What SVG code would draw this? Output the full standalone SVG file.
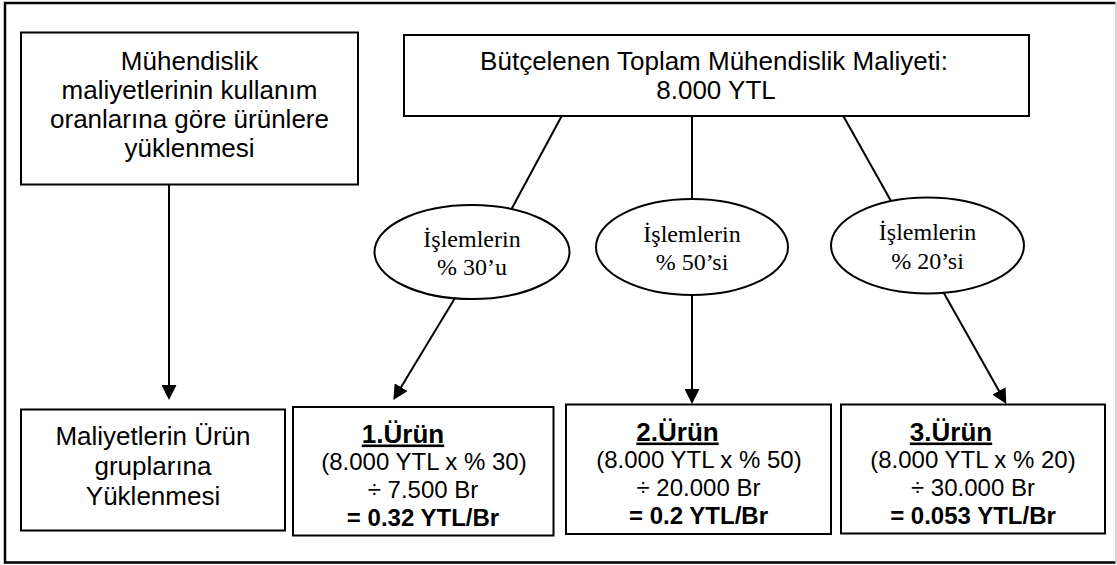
<svg xmlns="http://www.w3.org/2000/svg" width="1117" height="565" viewBox="0 0 1117 565">
  <defs>
    <style>
      .box { fill: #ffffff; stroke: #000000; stroke-width: 2; }
      .oval { fill: #ffffff; stroke: #000000; stroke-width: 2; }
      .link { fill: none; stroke: #000000; stroke-width: 2; }
      .arrow { fill: none; stroke: #000000; stroke-width: 2; marker-end: url(#head); }
      .sans { font-family: "Liberation Sans", Arial, sans-serif; fill: #000000; text-anchor: middle; }
      .big { font-size: 26px; }
      .calc { font-size: 24px; }
      .title { font-size: 26px; font-weight: bold; text-decoration: underline; }
      .bold { font-weight: bold; }
      .serif { font-family: "Liberation Serif", "Times New Roman", serif; font-size: 24px; fill: #000000; text-anchor: middle; }
    </style>
    <marker id="head" markerUnits="userSpaceOnUse" viewBox="0 0 15 15" markerWidth="15" markerHeight="15" refX="11" refY="7.5" orient="auto">
      <path d="M0,0 L15,7.5 L0,15 z" fill="#000000"/>
    </marker>
  </defs>

  <rect x="0" y="0" width="1117" height="565" fill="#ffffff"/>

  <!-- outer frame -->
  <g id="frame">
    <path d="M1116,3 L5,3 L5,562.5 L1116,562.5" fill="none" stroke="#000000" stroke-width="2.5"/>
    <line x1="1116" y1="2" x2="1116" y2="563.5" stroke="#c8c8c8" stroke-width="1.5"/>
  </g>

  <!-- connectors -->
  <g id="connectors">
    <line class="arrow" x1="169" y1="185" x2="169" y2="396"/>
    <line class="link" x1="561.7" y1="116" x2="511" y2="210"/>
    <line class="link" x1="692" y1="116" x2="692" y2="200"/>
    <line class="link" x1="843.3" y1="116" x2="891" y2="201"/>
    <line class="arrow" x1="455" y1="298" x2="395.4" y2="396.6"/>
    <line class="arrow" x1="692" y1="294" x2="692" y2="400"/>
    <line class="arrow" x1="943.3" y1="292" x2="1004.4" y2="400.5"/>
  </g>

  <!-- method description -->
  <g id="node-method">
    <rect class="box" x="21" y="32.5" width="337" height="152"/>
    <text class="sans big" x="189.5" y="70">Mühendislik</text>
    <text class="sans big" x="189.5" y="99">maliyetlerinin kullanım</text>
    <text class="sans big" x="189.5" y="128">oranlarına göre ürünlere</text>
    <text class="sans big" x="189.5" y="157">yüklenmesi</text>
  </g>

  <!-- budget total -->
  <g id="node-budget">
    <rect class="box" x="404" y="35" width="625" height="81"/>
    <text class="sans big" x="714" y="70">Bütçelenen Toplam Mühendislik Maliyeti:</text>
    <text class="sans big" x="716" y="99">8.000 YTL</text>
  </g>

  <!-- usage shares -->
  <g id="node-share1">
    <ellipse class="oval" cx="472" cy="252" rx="97.5" ry="47"/>
    <text class="serif" x="472" y="247">İşlemlerin</text>
    <text class="serif" x="472" y="275">% 30’u</text>
  </g>
  <g id="node-share2">
    <ellipse class="oval" cx="692" cy="247" rx="96" ry="48"/>
    <text class="serif" x="692" y="242">İşlemlerin</text>
    <text class="serif" x="692" y="270">% 50’si</text>
  </g>
  <g id="node-share3">
    <ellipse class="oval" cx="927.5" cy="245.5" rx="96.5" ry="48"/>
    <text class="serif" x="927.5" y="240">İşlemlerin</text>
    <text class="serif" x="927.5" y="268.5">% 20’si</text>
  </g>

  <!-- allocation label -->
  <g id="node-allocation">
    <rect class="box" x="21" y="409.5" width="264" height="121"/>
    <text class="sans big" x="153" y="445">Maliyetlerin Ürün</text>
    <text class="sans big" x="153" y="475">gruplarına</text>
    <text class="sans big" x="153" y="505">Yüklenmesi</text>
  </g>

  <!-- product rates -->
  <g id="node-product1">
    <rect class="box" x="293" y="407" width="260.5" height="128.5"/>
    <text class="sans title" x="403" y="442.5">1.Ürün</text>
    <text class="sans calc" x="424" y="470">(8.000 YTL x % 30)</text>
    <text class="sans calc" x="423" y="498">÷ 7.500 Br</text>
    <text class="sans calc bold" x="423" y="525.5">= 0.32 YTL/Br</text>
  </g>
  <g id="node-product2">
    <rect class="box" x="566" y="404.5" width="265" height="129.5"/>
    <text class="sans title" x="677.5" y="440.5">2.Ürün</text>
    <text class="sans calc" x="699" y="468">(8.000 YTL x % 50)</text>
    <text class="sans calc" x="698.5" y="496">÷ 20.000 Br</text>
    <text class="sans calc bold" x="698.5" y="523.5">= 0.2 YTL/Br</text>
  </g>
  <g id="node-product3">
    <rect class="box" x="841" y="404.5" width="264" height="129"/>
    <text class="sans title" x="951" y="440.5">3.Ürün</text>
    <text class="sans calc" x="973" y="468">(8.000 YTL x % 20)</text>
    <text class="sans calc" x="973" y="496">÷ 30.000 Br</text>
    <text class="sans calc bold" x="973" y="523.5">= 0.053 YTL/Br</text>
  </g>
</svg>
